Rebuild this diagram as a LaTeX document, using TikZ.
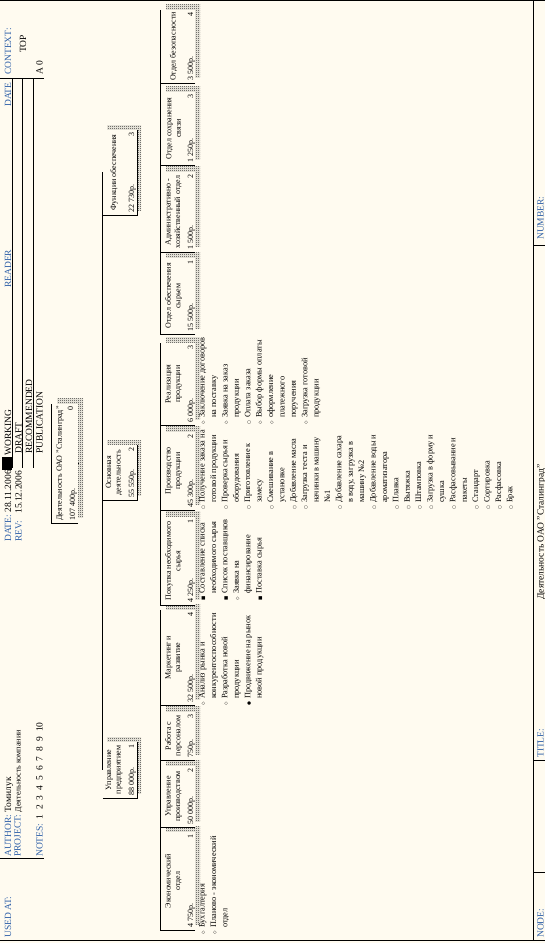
\documentclass[tikz,border=0pt]{standalone}
\usepackage{fontspec}
\setmainfont{Liberation Serif}
\newfontfamily\symfont{DejaVu Sans}
\usetikzlibrary{patterns}
\definecolor{paper}{HTML}{FFFBF0}
\definecolor{labelblue}{HTML}{2D5FA8}
\pgfdeclarepatternformonly{shadowdots}{\pgfpointorigin}{\pgfpoint{2pt}{2pt}}{\pgfpoint{2pt}{2pt}}{%
  \pgfpathrectangle{\pgfpointorigin}{\pgfpoint{1pt}{1pt}}%
  \pgfpathrectangle{\pgfpoint{1pt}{1pt}}{\pgfpoint{1pt}{1pt}}%
  \pgfusepath{fill}}
\newcommand{\itm}[2]{\makebox[7pt][l]{\symfont\fontsize{4.5}{5}\selectfont #1}#2}
\newcommand{\cnt}[1]{\hspace*{7pt}#1}
\tikzset{
  treebox/.style={rectangle, inner sep=0pt, fill=paper},
  dropshade/.style={pattern=shadowdots, pattern color=black!85},
  boxtitle/.style={font=\fontsize{8}{9.5}\selectfont, align=center, inner sep=0pt},
  boxcost/.style={font=\fontsize{8}{9}\selectfont, inner sep=0pt},
  itemlist/.style={font=\fontsize{8.3}{11.4}\selectfont, align=left, inner sep=0pt, anchor=north west},
  framelabel/.style={font=\fontsize{9.5}{10}\selectfont, text=labelblue, inner sep=0pt, anchor=base west},
  frametext/.style={font=\fontsize{9.5}{10}\selectfont, inner sep=0pt, anchor=base west},
  link/.style={line width=0.8pt},
  frameline/.style={line width=0.8pt},
}

\begin{document}
\begin{tikzpicture}[x=1pt, y=-1pt, rotate=90, transform shape]
  \useasboundingbox (0,0) rectangle (943,545);
  \fill[paper] (0,0) rectangle (943,545);

  % frame and header
  \draw[frameline] (942.5,0) -- (942.5,545);
  \draw[frameline] (3,0) -- (3,545);
  \draw[frameline] (3,533) -- (942.5,533);
  \foreach \x in {71,183,698} \draw[frameline] (\x,533) -- (\x,545);
  \foreach \y in {12.2,22.6,33.1} \draw[frameline] (475,\y) -- (865,\y);
  \draw[frameline] (865,0) -- (865,43.5);
  \draw[frameline] (85,0) -- (85,43.5);
  \fill (473,1.5) rectangle (485.5,11.5);

  \node[framelabel] (usedat) at (5,11) {USED AT:};
  \node[framelabel] (author) at (86,11) {AUTHOR:\ \textcolor{black}{Томилук}};
  \node[framelabel] (project) at (86,20.5) {PROJECT:\ \textcolor{black}{\fontsize{8}{9}\selectfont Деятельность компании}};
  \node[framelabel] (notes) at (86,42.5) {NOTES:\hspace{4pt}\textcolor{black}{1\hspace{5pt}2\hspace{5pt}3\hspace{5pt}4\hspace{5pt}5\hspace{5pt}6\hspace{5pt}7\hspace{5pt}8\hspace{5pt}9\hspace{5pt}10}};
  \node[framelabel] (date) at (401,11) {DATE:\ \textcolor{black}{28.11.2006}};
  \node[framelabel] (rev) at (401,21.5) {REV:\ \ \ \textcolor{black}{15.12.2006}};
  \node[frametext] (working) at (487,11) {WORKING};
  \node[frametext] (draft) at (489,21.5) {DRAFT};
  \node[frametext] (recom) at (489,32) {RECOMMENDED};
  \node[frametext] (publ) at (489,42.5) {PUBLICATION};
  \node[framelabel] (reader) at (655,11) {READER};
  \node[framelabel] (rdate) at (836,11) {DATE};
  \node[framelabel] (context) at (868,11) {CONTEXT:};
  \node[frametext] (top) at (890,26) {TOP};
  \node[frametext] (ctxnode) at (868,42.5) {A 0};

  \node[framelabel] (nodelbl) at (5,543.5) {NODE:};
  \node[framelabel] (titlelbl) at (185,543.5) {TITLE:};
  \node[frametext] (titleval) at (343,543.5) {Деятельность ОАО "Сталинград"};
  \node[framelabel] (numberlbl) at (703,543.5) {NUMBER:};

  % buses
  \coordinate (bus0) at (480,90);
  \coordinate (busA) at (173,150);
  \coordinate (busB) at (471,150);
  \coordinate (busC) at (771,150);

  % root
  \fill[dropshade] (425,57) rectangle (544,83);
  \node[treebox, minimum width=119pt, minimum height=26pt] (root) at (479.5,65) {};
  \draw[frameline] (root.south west) -- (root.north west) -- (root.north east);
  \node[boxtitle] at (479.5,60) {Деятельность ОАО "Сталинград"};
  \node[boxcost, anchor=base west] at (422,75) {107 400р.};
  \node[boxcost, anchor=base east] at (537,73) {0};

  % level 1
  \foreach \n/\xa/\xb/\ttl/\cost in {
      1/145/201/{Управление\\предприятием}/{88 000р.},
      2/443/498/{Основная\\деятельность}/{55 550р.},
      3/728/813/{Функции обеспечения}/{22 730р.}} {
    \fill[dropshade] (\xa+4,107) rectangle (\xb+4,141);
    \node[treebox, minimum width={(\xb-\xa)*1pt}, minimum height=34pt] (l1-\n) at ({(\xa+\xb)/2},120) {};
    \draw[frameline] (l1-\n.north west) -- (l1-\n.south west) -- (l1-\n.south east);
    \node[boxtitle] at ({(\xa+\xb)/2},114) {\ttl};
    \node[boxcost, anchor=base west] at (\xa+2,134) {\cost};
    \node[boxcost, anchor=base east] at (\xb-2,134) {\n};
  }

  % level 2
  \foreach \n/\xa/\xb/\ttl/\cost/\num in {
      1/13/111/{Экономический\\отдел}/{4 750р.}/1,
      2/116/177/{Управление\\производством}/{50 000р.}/2,
      3/183/231/{Работа с\\персоналом}/{750р.}/3,
      4/238/333/{Маркетинг и\\развитие}/{32 500р.}/4,
      5/338/426/{Покупка необходимого\\сырья}/{4 250р.}/1,
      6/433/511/{Производство\\продукции}/{45 300р.}/2,
      7/518/600/{Реализация\\продукции}/{6 000р.}/3,
      8/609/685/{Отдел обеспечения\\сырьем}/{15 500р.}/1,
      9/691/771/{Административно -\\хозяйственный отдел}/{1 500р.}/2,
      10/778/851/{Отдел сохранения\\связи}/{1 250р.}/3,
      11/860/933/{Отдел безопасности}/{3 500р.}/4} {
    \fill[dropshade] (\xa+5,166) rectangle (\xb+5,200);
    \node[treebox, minimum width={(\xb-\xa)*1pt}, minimum height=34pt] (l2-\n) at ({(\xa+\xb)/2},178) {};
    \draw[frameline] (l2-\n.south west) -- (l2-\n.north west) -- (l2-\n.north east);
    \node[boxtitle] at ({(\xa+\xb)/2},173.5) {\ttl};
    \node[boxcost, anchor=base west] at (\xa+2,193) {\cost};
    \node[boxcost, anchor=base east] at (\xb-2,193) {\num};
  }

  % connectors
  \draw[link] (root.south) -- (root.south -| bus0);
  \draw[link] (l1-1.north -| bus0) -- (l1-3.north -| bus0);
  \foreach \k in {1,2,3} \draw[link] (l1-\k.north -| bus0) -- (l1-\k.north);
  \draw[link] (l1-1.south) -- (l1-1.south -| busA);
  \draw[link] (l1-2.south) -- (l1-2.south -| busB);
  \draw[link] (l1-3.south) -- (l1-3.south -| busC);
  \draw[link] (l2-1.north -| busA) -- (l2-4.north -| busA);
  \draw[link] (l2-5.north -| busB) -- (l2-7.north -| busB);
  \draw[link] (l2-8.north -| busC) -- (l2-11.north -| busC);
  \foreach \k/\bus in {1/busA,2/busA,3/busA,4/busA,5/busB,6/busB,7/busB,8/busC,9/busC,10/busC,11/busC}
    \draw[link] (l2-\k.north -| \bus) -- (l2-\k.north);

  % item lists
  \node[itemlist] (list1) at (8,199) {\itm{◇}{Бухгалтерия}\\ \itm{◇}{Планово - экономический}\\ \cnt{отдел}};
  \node[itemlist] (list4) at (237,199) {\itm{◇}{Анализ рынка и}\\ \cnt{конкурентоспособности}\\ \itm{◇}{Разработка новой}\\ \cnt{продукции}\\ \itm{●}{Продвижение на рынок}\\ \cnt{новой продукции}};
  \node[itemlist] (list5) at (342,199) {\itm{■}{Составление списка}\\ \cnt{необходимого сырья}\\ \itm{■}{Список поставщиков}\\ \itm{◇}{Заявка на}\\ \cnt{финансирование}\\ \itm{■}{Поставка сырья}};
  \node[itemlist] (list6) at (433,199) {\itm{○}{Получение заказа на}\\ \cnt{готовой продукции}\\ \itm{○}{Проверка сырья и}\\ \cnt{оборудования}\\ \itm{○}{Приготовление к}\\ \cnt{замесу}\\ \itm{○}{Смешивание в}\\ \cnt{установке}\\ \itm{○}{Добавление масла}\\ \itm{○}{Загрузка теста и}\\ \cnt{начинки в машину}\\ \cnt{№1}\\ \itm{○}{Добавление сахара}\\ \cnt{в воду, загрузка в}\\ \cnt{машину №2}\\ \itm{○}{Добавление воды и}\\ \cnt{ароматизатора}\\ \itm{○}{Плавка}\\ \itm{○}{Вытяжка}\\ \itm{○}{Штамповка}\\ \itm{○}{Загрузка в форму и}\\ \cnt{сушка}\\ \itm{○}{Расфасовывание и}\\ \cnt{пакеты}\\ \itm{○}{Стандарт}\\ \itm{○}{Сортировка}\\ \itm{○}{Расфасовка}\\ \itm{○}{Брак}};
  \node[itemlist] (list7) at (518,199) {\itm{◇}{Заключение договоров}\\ \cnt{на поставку}\\ \itm{◇}{Заявка на заказ}\\ \cnt{продукции}\\ \itm{○}{Оплата заказа}\\ \itm{◇}{Выбор формы оплаты}\\ \itm{◇}{оформление}\\ \cnt{платежного}\\ \cnt{поручения}\\ \itm{◇}{Загрузка готовой}\\ \cnt{продукции}};
\end{tikzpicture}
\end{document}
